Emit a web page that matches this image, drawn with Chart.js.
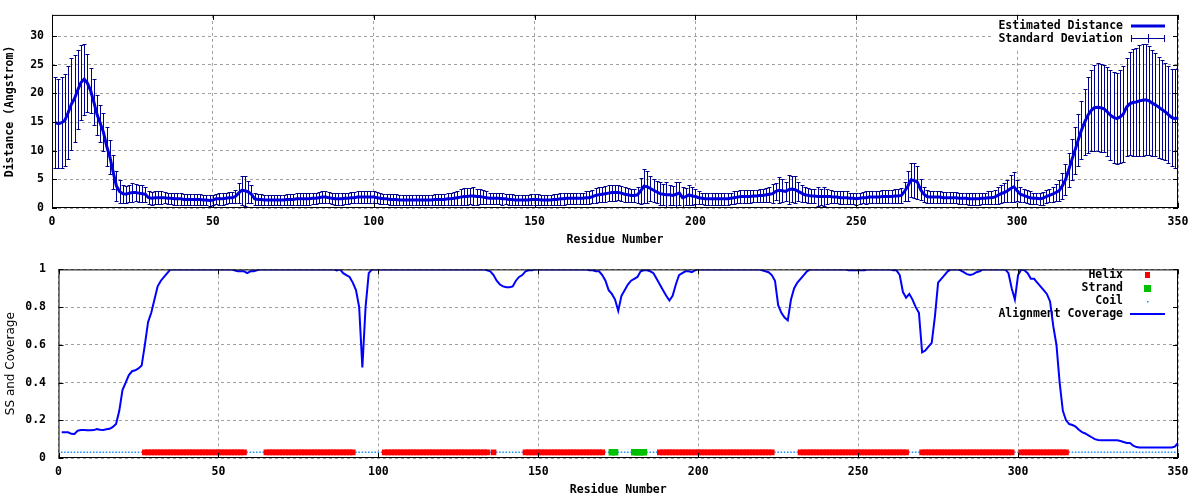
<!DOCTYPE html>
<html>
<head>
<meta charset="utf-8">
<script src="https://cdn.jsdelivr.net/npm/chart.js@4.4.0/dist/chart.umd.min.js"></script>
<style>
  body { margin: 0; background: #fff; }
  #wrap { position: relative; width: 1200px; height: 500px; }
  canvas { position: absolute; left: 0; }
</style>
</head>
<body>
<div id="wrap">
  <canvas id="distChart" width="1200" height="250" style="top:0"></canvas>
  <canvas id="covChart" width="1200" height="250" style="top:250px"></canvas>
</div>
<script>
// estimated distance per residue (1..350)
const distance = [
  14.9, 14.7, 14.9, 15.3, 16.6, 18.1, 19.1, 20.6, 21.9, 22.5,
  21.8, 20.5, 18.5, 16.3, 14.8, 13.2, 10.8, 8.9, 6.3, 3.9,
  2.9, 2.5, 2.4, 2.6, 2.7, 2.7, 2.6, 2.5, 2.4, 1.8,
  1.7, 1.8, 1.8, 1.8, 1.8, 1.7, 1.7, 1.6, 1.6, 1.6,
  1.5, 1.5, 1.5, 1.5, 1.5, 1.5, 1.4, 1.4, 1.3, 1.4,
  1.6, 1.6, 1.6, 1.7, 1.8, 1.8, 2.0, 2.6, 3.1, 3.0,
  2.8, 2.4, 1.6, 1.5, 1.5, 1.4, 1.4, 1.4, 1.4, 1.4,
  1.4, 1.4, 1.5, 1.5, 1.5, 1.6, 1.6, 1.6, 1.6, 1.6,
  1.7, 1.7, 1.8, 1.9, 1.9, 1.8, 1.7, 1.6, 1.6, 1.6,
  1.7, 1.7, 1.8, 1.8, 1.9, 1.9, 1.9, 1.9, 1.9, 1.9,
  1.8, 1.7, 1.6, 1.6, 1.5, 1.5, 1.5, 1.4, 1.4, 1.4,
  1.4, 1.4, 1.4, 1.4, 1.4, 1.4, 1.4, 1.4, 1.5, 1.5,
  1.5, 1.5, 1.6, 1.6, 1.7, 1.8, 1.9, 2.0, 2.0, 2.1,
  2.1, 2.0, 2.0, 1.9, 1.8, 1.7, 1.7, 1.7, 1.7, 1.6,
  1.6, 1.5, 1.5, 1.4, 1.4, 1.4, 1.4, 1.4, 1.5, 1.5,
  1.5, 1.4, 1.4, 1.4, 1.4, 1.5, 1.5, 1.6, 1.6, 1.7,
  1.7, 1.7, 1.7, 1.7, 1.7, 1.8, 1.8, 2.0, 2.2, 2.3,
  2.4, 2.5, 2.6, 2.7, 2.7, 2.7, 2.6, 2.4, 2.3, 2.2,
  2.2, 2.3, 3.0, 3.8, 3.7, 3.4, 3.1, 2.8, 2.5, 2.4,
  2.3, 2.3, 2.2, 2.4, 2.6, 1.8, 2.0, 2.3, 2.1, 2.0,
  1.8, 1.7, 1.6, 1.6, 1.6, 1.6, 1.6, 1.6, 1.6, 1.6,
  1.7, 1.8, 1.9, 2.0, 2.0, 2.0, 2.0, 2.1, 2.1, 2.2,
  2.2, 2.3, 2.4, 2.5, 2.9, 3.1, 3.0, 2.9, 3.2, 3.3,
  3.2, 2.9, 2.6, 2.3, 2.2, 2.1, 2.1, 2.0, 2.0, 2.0,
  2.0, 2.0, 1.9, 1.9, 1.8, 1.8, 1.8, 1.7, 1.7, 1.6,
  1.7, 1.8, 1.8, 1.9, 1.9, 1.9, 1.9, 2.0, 2.0, 2.0,
  2.0, 2.1, 2.1, 2.2, 2.9, 3.8, 4.9, 4.8, 4.5, 3.2,
  2.4, 2.0, 1.9, 1.9, 1.9, 1.9, 1.8, 1.8, 1.8, 1.8,
  1.8, 1.7, 1.7, 1.7, 1.6, 1.6, 1.6, 1.6, 1.7, 1.7,
  1.8, 1.8, 1.9, 2.2, 2.5, 2.7, 3.0, 3.4, 3.7, 3.0,
  2.4, 2.2, 2.0, 1.8, 1.7, 1.7, 1.6, 1.7, 2.0, 2.2,
  2.4, 2.7, 3.0, 3.8, 4.9, 6.6, 8.4, 10.1, 11.9, 13.6,
  15.0, 16.2, 17.0, 17.5, 17.6, 17.5, 17.3, 16.8, 16.2, 15.8,
  15.6, 15.9, 16.4, 17.6, 18.2, 18.4, 18.5, 18.7, 18.8, 18.9,
  18.7, 18.3, 18.0, 17.6, 17.2, 16.8, 16.3, 15.8, 15.6, 15.7
];

// standard deviation per residue
const deviation = [
  7.9, 7.8, 7.9, 8.0, 8.1, 8.0, 7.6, 6.9, 6.5, 6.2,
  5.0, 3.9, 4.0, 3.5, 3.2, 3.3, 3.4, 2.9, 3.0, 2.6,
  2.0, 1.6, 1.5, 1.5, 1.6, 1.5, 1.5, 1.5, 1.3, 1.1,
  1.1, 1.1, 1.1, 1.1, 1.0, 1.0, 1.0, 1.0, 1.0, 1.0,
  0.9, 0.9, 0.9, 0.9, 0.9, 0.9, 0.9, 0.9, 0.9, 0.9,
  0.9, 1.0, 1.0, 1.0, 1.0, 1.0, 1.2, 1.8, 2.5, 2.6,
  1.9, 1.6, 1.0, 0.9, 0.9, 0.9, 0.9, 0.9, 0.9, 0.9,
  0.9, 0.9, 0.9, 0.9, 1.0, 1.0, 1.0, 1.0, 1.0, 1.0,
  1.0, 1.0, 1.0, 1.1, 1.1, 1.0, 1.0, 1.0, 1.0, 1.0,
  1.0, 1.0, 1.0, 1.0, 1.0, 1.0, 1.0, 1.0, 1.0, 1.0,
  1.0, 1.0, 0.9, 0.9, 0.9, 0.9, 0.9, 0.9, 0.9, 0.9,
  0.9, 0.9, 0.9, 0.9, 0.9, 0.9, 0.9, 0.9, 0.9, 0.9,
  0.9, 0.9, 1.0, 1.0, 1.1, 1.2, 1.4, 1.5, 1.5, 1.4,
  1.5, 1.4, 1.3, 1.2, 1.1, 1.0, 1.0, 1.0, 1.0, 1.0,
  0.9, 0.9, 0.9, 0.9, 0.9, 0.9, 0.9, 0.9, 0.9, 0.9,
  0.9, 0.9, 0.9, 0.9, 0.9, 0.9, 0.9, 1.0, 1.0, 1.0,
  1.0, 1.0, 1.0, 1.0, 1.0, 1.1, 1.1, 1.2, 1.3, 1.3,
  1.3, 1.4, 1.4, 1.4, 1.4, 1.3, 1.3, 1.3, 1.2, 1.2,
  1.2, 1.4, 2.3, 3.0, 2.8, 2.2, 2.0, 1.9, 2.0, 1.8,
  2.2, 1.7, 1.6, 2.2, 2.0, 1.8, 1.5, 1.8, 1.5, 1.3,
  1.1, 1.0, 1.0, 1.0, 1.0, 1.0, 1.0, 1.0, 1.0, 1.0,
  1.0, 1.1, 1.1, 1.1, 1.1, 1.1, 1.1, 1.1, 1.1, 1.2,
  1.2, 1.2, 1.3, 1.7, 1.5, 2.3, 2.0, 1.6, 2.5, 2.2,
  2.4, 1.7, 1.5, 1.3, 1.3, 1.2, 1.3, 1.6, 1.4, 1.7,
  1.3, 1.2, 1.1, 1.1, 1.1, 1.1, 1.1, 1.0, 1.0, 1.0,
  1.0, 1.0, 1.1, 1.1, 1.1, 1.1, 1.1, 1.1, 1.1, 1.1,
  1.1, 1.2, 1.2, 1.3, 1.6, 2.6, 3.0, 3.1, 2.9, 1.8,
  1.3, 1.1, 1.0, 1.0, 1.0, 1.0, 1.0, 1.0, 1.0, 1.0,
  1.0, 1.0, 1.0, 1.0, 1.0, 1.0, 1.0, 1.0, 1.0, 1.0,
  1.1, 1.1, 1.2, 1.5, 1.6, 1.6, 1.9, 2.4, 2.6, 1.8,
  1.3, 1.2, 1.1, 1.1, 1.0, 1.0, 1.0, 1.1, 1.2, 1.2,
  1.3, 1.5, 1.8, 2.3, 2.7, 3.0, 3.6, 4.1, 4.5, 5.0,
  5.8, 6.6, 7.1, 7.5, 7.7, 7.7, 7.6, 7.8, 7.9, 8.0,
  8.0, 8.1, 8.3, 8.6, 9.0, 9.3, 9.5, 9.7, 9.8, 9.7,
  9.5, 9.3, 9.0, 8.8, 8.6, 8.5, 8.4, 8.5, 8.6, 8.8
];

// alignment coverage per residue
const coverage = [
  0.136, 0.136, 0.136, 0.128, 0.127, 0.145, 0.148, 0.148, 0.147, 0.147,
  0.148, 0.153, 0.150, 0.149, 0.152, 0.155, 0.165, 0.180, 0.250, 0.360,
  0.400, 0.440, 0.460, 0.465, 0.475, 0.490, 0.600, 0.720, 0.770, 0.840,
  0.910, 0.940, 0.960, 0.980, 1, 1, 1, 1, 1, 1,
  1, 1, 1, 1, 1, 1, 1, 1, 1, 1,
  1, 1, 1, 1, 0.995, 0.99, 0.99, 0.99, 0.98, 0.99,
  0.99, 0.995, 1, 1, 1, 1, 1, 1, 1, 1,
  1, 1, 1, 1, 1, 1, 1, 1, 1, 1,
  1, 1, 1, 1, 1, 1, 0.995, 1, 0.98, 0.97,
  0.96, 0.93, 0.89, 0.80, 0.48, 0.80, 0.98, 1, 1, 1,
  1, 1, 1, 1, 1, 1, 1, 1, 1, 1,
  1, 1, 1, 1, 1, 1, 1, 1, 1, 1,
  1, 1, 1, 1, 1, 1, 1, 1, 1, 1,
  1, 1, 1, 0.995, 0.99, 0.97, 0.94, 0.92, 0.91, 0.905,
  0.905, 0.91, 0.94, 0.96, 0.97, 0.99, 0.995, 0.995, 1, 1,
  1, 1, 1, 1, 1, 1, 1, 1, 1, 1,
  1, 1, 1, 1, 1, 0.995, 0.995, 0.99, 0.99, 0.97,
  0.94, 0.89, 0.87, 0.84, 0.78, 0.86, 0.89, 0.92, 0.94, 0.95,
  0.96, 0.99, 0.995, 0.995, 0.99, 0.98, 0.95, 0.92, 0.89, 0.86,
  0.835, 0.86, 0.92, 0.97, 0.98, 0.99, 0.99, 0.985, 0.995, 1,
  1, 1, 1, 1, 1, 1, 1, 1, 1, 1,
  1, 1, 1, 1, 1, 1, 1, 1, 1, 0.995,
  0.99, 0.985, 0.97, 0.94, 0.81, 0.77, 0.745, 0.73, 0.84, 0.90,
  0.93, 0.95, 0.97, 0.99, 1, 1, 1, 1, 1, 1,
  1, 1, 1, 1, 1, 1, 0.995, 0.995, 0.995, 0.995,
  0.995, 0.995, 1, 1, 1, 1, 1, 1, 1, 1,
  0.995, 0.995, 0.97, 0.88, 0.85, 0.87, 0.84, 0.80, 0.77, 0.56,
  0.57, 0.59, 0.61, 0.75, 0.93, 0.95, 0.97, 0.99, 1, 1,
  1, 0.995, 0.985, 0.975, 0.97, 0.975, 0.985, 0.99, 1, 1,
  1, 1, 1, 1, 1, 1, 0.98, 0.90, 0.84, 0.97,
  1, 0.995, 0.98, 0.95, 0.95, 0.93, 0.91, 0.89, 0.87, 0.83,
  0.70, 0.60, 0.40, 0.25, 0.20, 0.18, 0.175, 0.166, 0.15, 0.137,
  0.13, 0.12, 0.11, 0.10, 0.095, 0.094, 0.094, 0.094, 0.094, 0.094,
  0.094, 0.09, 0.085, 0.08, 0.08, 0.065, 0.058, 0.056, 0.056, 0.056,
  0.056, 0.056, 0.056, 0.056, 0.056, 0.056, 0.056, 0.056, 0.06, 0.08
];

// secondary structure per residue, H helix, E strand, C coil
const secStructure = [
  "CCCCCCCCCC", "CCCCCCCCCC", "CCCCCCHHHH", "HHHHHHHHHH", "HHHHHHHHHH",
  "HHHHHHHHCC", "CCCCHHHHHH", "HHHHHHHHHH", "HHHHHHHHHH", "HHCCCCCCCC",
  "CHHHHHHHHH", "HHHHHHHHHH", "HHHHHHHHHH", "HHHHCHCCCC", "CCCCCHHHHH",
  "HHHHHHHHHH", "HHHHHHHHHH", "CCEECCCCCE", "EEECCCCHHH", "HHHHHHHHHH",
  "HHHHHHHHHH", "HHHHHHHHHH", "HHHCCCCCCC", "CHHHHHHHHH", "HHHHHHHHHH",
  "HHHHHHHHHH", "HHHHHCCCCH", "HHHHHHHHHH", "HHHHHHHHHH", "HHHHHHHHCC",
  "HHHHHHHHHH", "HHHHHCCCCC", "CCCCCCCCCC", "CCCCCCCCCC", "CCCCCCCCCC"
].join("");
const ssLevel = 0.03;

const xTicks = [0, 50, 100, 150, 200, 250, 300, 350];
const distTicks = [0, 5, 10, 15, 20, 25, 30];
const covTicks = [0, 0.2, 0.4, 0.6, 0.8, 1];
const distNames = ["Estimated Distance", "Standard Deviation"];
const covNames = ["Helix", "Strand", "Coil", "Alignment Coverage"];

const lineColor = "#0000dd";
const barColor = "#00008f";
const covColor = "#0000ff";
const helixColor = "#ff0000";
const strandColor = "#00c000";
const coilColor = "#2090ff";
const gridColor = "#a0a0a0";
const MONO = '"DejaVu Sans Mono", monospace';
const boldFont = { family: MONO, size: 11.5, weight: "bold" };

//build point tables
const distPoints = distance.map((v, i) => ({ x: i + 1, y: v }));
const covPoints = coverage.map((v, i) => ({ x: i + 1, y: v }));
const helixPoints = [];
const strandPoints = [];
const coilPoints = [];
secStructure.split("").forEach((s, i) => {
  const p = { x: i + 1, y: ssLevel };
  if (s === "H") helixPoints.push(p);
  else if (s === "E") strandPoints.push(p);
  else coilPoints.push(p);
});

//frame with inward tick marks, like the original
const frame = {
  id: "frame",
  afterDraw(chart) {
    const { ctx, chartArea: a, scales } = chart;
    ctx.save();
    ctx.strokeStyle = "#000";
    ctx.lineWidth = 1;
    ctx.strokeRect(a.left + 0.5, a.top + 0.5, a.right - a.left - 1, a.bottom - a.top - 1);
    ctx.beginPath();
    scales.x.ticks.forEach((t) => {
      const px = Math.round(scales.x.getPixelForValue(t.value)) + 0.5;
      ctx.moveTo(px, a.bottom);
      ctx.lineTo(px, a.bottom - 5);
      ctx.moveTo(px, a.top);
      ctx.lineTo(px, a.top + 5);
    });
    scales.y.ticks.forEach((t) => {
      const py = Math.round(scales.y.getPixelForValue(t.value)) + 0.5;
      ctx.moveTo(a.left, py);
      ctx.lineTo(a.left + 5, py);
      ctx.moveTo(a.right, py);
      ctx.lineTo(a.right - 5, py);
    });
    ctx.stroke();
    ctx.restore();
  },
};

//key for the distance chart + error bars
const distKey = {
  id: "distKey",
  beforeDatasetsDraw(chart) {
    const { ctx, chartArea: a, scales } = chart;
    ctx.save();
    ctx.fillStyle = "#fff";
    ctx.fillRect(993, a.top + 1, a.right - 994, 32);
    ctx.font = "bold 11.5px " + MONO;
    ctx.textAlign = "right";
    ctx.textBaseline = "middle";
    ctx.fillStyle = "#000";
    ctx.fillText(distNames[0], 1123, 26);
    ctx.fillText(distNames[1], 1123, 39);
    ctx.strokeStyle = lineColor;
    ctx.lineWidth = 3;
    ctx.beginPath();
    ctx.moveTo(1131, 26);
    ctx.lineTo(1165, 26);
    ctx.stroke();
    ctx.strokeStyle = barColor;
    ctx.lineWidth = 1;
    ctx.beginPath();
    ctx.moveTo(1131, 38.5);
    ctx.lineTo(1165, 38.5);
    ctx.moveTo(1131.5, 35);
    ctx.lineTo(1131.5, 42);
    ctx.moveTo(1164.5, 35);
    ctx.lineTo(1164.5, 42);
    ctx.moveTo(1148.5, 34);
    ctx.lineTo(1148.5, 43);
    ctx.stroke();

    //error bars
    ctx.beginPath();
    ctx.rect(a.left, a.top, a.right - a.left, a.bottom - a.top);
    ctx.clip();
    ctx.beginPath();
    distance.forEach((d, i) => {
      const px = Math.round(scales.x.getPixelForValue(i + 1)) + 0.5;
      const hi = Math.round(scales.y.getPixelForValue(d + deviation[i])) + 0.5;
      const lo = Math.round(scales.y.getPixelForValue(d - deviation[i])) + 0.5;
      ctx.moveTo(px, hi);
      ctx.lineTo(px, lo);
      ctx.moveTo(px - 2, hi);
      ctx.lineTo(px + 2, hi);
      ctx.moveTo(px - 2, lo);
      ctx.lineTo(px + 2, lo);
    });
    ctx.stroke();
    ctx.restore();
  },
};

//key for the coverage chart
const covKey = {
  id: "covKey",
  beforeDatasetsDraw(chart) {
    const { ctx, chartArea: a } = chart;
    ctx.save();
    ctx.fillStyle = "#fff";
    ctx.fillRect(995, a.top + 1, a.right - 996, 58);
    ctx.font = "bold 11.5px " + MONO;
    ctx.textAlign = "right";
    ctx.textBaseline = "middle";
    ctx.fillStyle = "#000";
    covNames.forEach((n, i) => ctx.fillText(n, 1123, 25 + i * 13));
    ctx.fillStyle = helixColor;
    ctx.fillRect(1145, 22, 5, 6);
    ctx.fillStyle = strandColor;
    ctx.fillRect(1144, 35, 7, 7);
    ctx.fillStyle = coilColor;
    ctx.fillRect(1147, 51, 1.5, 1.5);
    ctx.strokeStyle = covColor;
    ctx.lineWidth = 2;
    ctx.beginPath();
    ctx.moveTo(1130, 64);
    ctx.lineTo(1165, 64);
    ctx.stroke();
    ctx.restore();
  },
};

function xAxis() {
  return {
    type: "linear",
    min: 0,
    max: 350,
    afterBuildTicks: (s) => { s.ticks = xTicks.map((v) => ({ value: v })); },
    afterFit: (s) => { s.height = 42; },
    grid: { color: gridColor, drawTicks: false },
    border: { display: false, dash: [3, 3] },
    ticks: { color: "#000", font: boldFont, padding: 7, maxRotation: 0 },
    title: { display: true, text: "Residue Number", color: "#000", font: boldFont, padding: { top: 0, bottom: 3 } },
  };
}

//distance chart
new Chart(document.getElementById("distChart"), {
  type: "line",
  data: {
    datasets: [
      {
        label: distNames[0],
        data: distPoints,
        borderColor: lineColor,
        borderWidth: 3,
        pointRadius: 0,
        tension: 0,
      },
    ],
  },
  options: {
    responsive: false,
    animation: false,
    devicePixelRatio: 1,
    layout: { padding: { top: 14, right: 22, left: 0, bottom: 0 } },
    plugins: { legend: { display: false }, tooltip: { enabled: false } },
    scales: {
      x: xAxis(),
      y: {
        min: 0,
        max: 33.7,
        afterBuildTicks: (s) => { s.ticks = distTicks.map((v) => ({ value: v })); },
        afterFit: (s) => { s.width = 52; },
        grid: { color: gridColor, drawTicks: false },
        border: { display: false, dash: [3, 3] },
        ticks: { color: "#000", font: boldFont, padding: 8 },
        title: { display: true, text: "Distance (Angstrom)", color: "#000", font: boldFont, padding: { top: 3, bottom: 0 } },
      },
    },
  },
  plugins: [distKey, frame],
});

//coverage chart
new Chart(document.getElementById("covChart"), {
  type: "line",
  data: {
    datasets: [
      {
        label: covNames[3],
        data: covPoints,
        borderColor: covColor,
        borderWidth: 2,
        pointRadius: 0,
        tension: 0,
      },
      {
        label: covNames[0],
        data: helixPoints,
        showLine: false,
        pointStyle: "rect",
        pointRadius: 4,
        pointBackgroundColor: helixColor,
        pointBorderWidth: 0,
      },
      {
        label: covNames[1],
        data: strandPoints,
        showLine: false,
        pointStyle: "rect",
        pointRadius: 4.6,
        pointBackgroundColor: strandColor,
        pointBorderWidth: 0,
      },
      {
        label: covNames[2],
        data: coilPoints,
        showLine: false,
        pointStyle: "rect",
        pointRadius: 1.1,
        pointBackgroundColor: coilColor,
        pointBorderWidth: 0,
      },
    ],
  },
  options: {
    responsive: false,
    animation: false,
    devicePixelRatio: 1,
    layout: { padding: { top: 13, right: 22, left: 0, bottom: 0 } },
    plugins: { legend: { display: false }, tooltip: { enabled: false } },
    scales: {
      x: xAxis(),
      y: {
        min: 0,
        max: 1,
        afterBuildTicks: (s) => { s.ticks = covTicks.map((v) => ({ value: v })); },
        afterFit: (s) => { s.width = 58.5; },
        grid: { color: gridColor, drawTicks: false },
        border: { display: false, dash: [3, 3] },
        ticks: { color: "#000", font: boldFont, padding: 12.5, callback: (v) => String(+v.toFixed(2)) },
        title: { display: true, text: "SS and Coverage", color: "#000", font: { family: '"DejaVu Sans", sans-serif', size: 12 }, padding: { top: 4, bottom: 0 } },
      },
    },
  },
  plugins: [covKey, frame],
});
</script>
</body>
</html>
